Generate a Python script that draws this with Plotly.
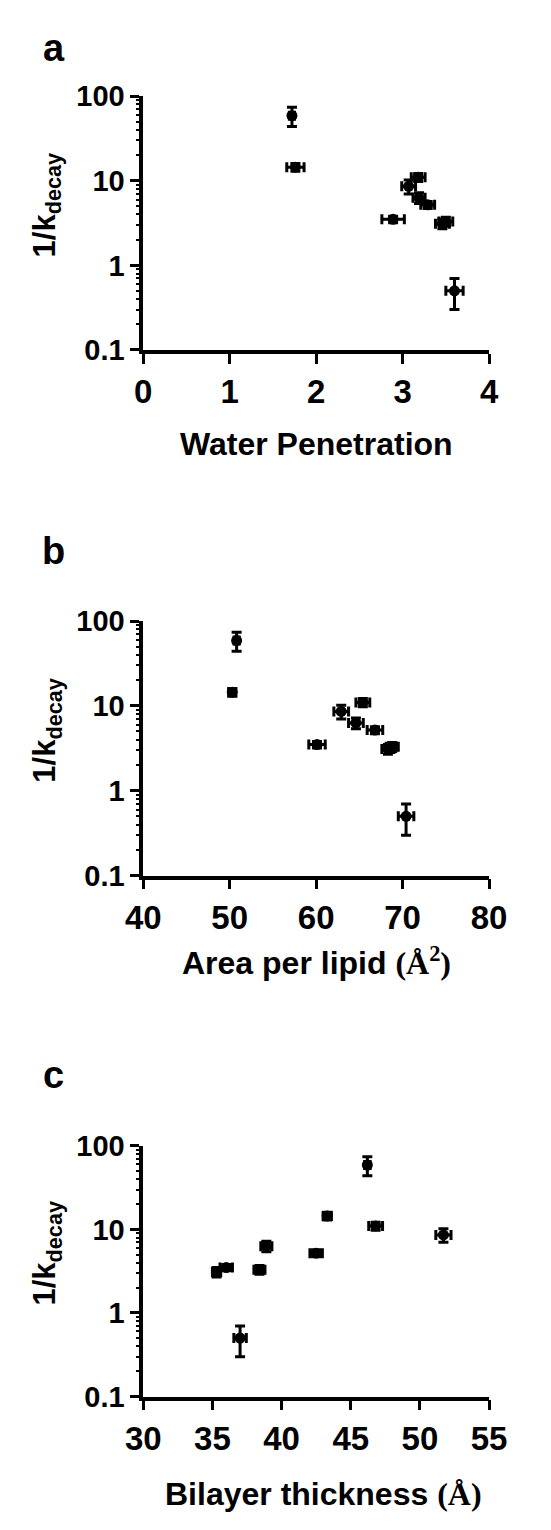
import plotly.graph_objects as go

# Shared y values (1/k_decay) and their errors for the 10 samples
k_inv = [59, 14.5, 11, 8.6, 6.3, 5.2, 3.5, 3.1, 3.3, 0.5]
k_inv_err = [15, 1.5, 1.2, 1.6, 0.9, 0.5, 0.3, 0.4, 0.4, 0.2]

# Panel a: water penetration
water_pen = [1.72, 1.76, 3.18, 3.07, 3.19, 3.29, 2.89, 3.46, 3.50, 3.60]
water_pen_err = [0.03, 0.10, 0.08, 0.08, 0.07, 0.08, 0.13, 0.08, 0.08, 0.10]

# Panel b: area per lipid (Å^2)
area_lipid = [50.8, 50.3, 65.4, 62.9, 64.6, 66.8, 60.1, 68.3, 68.8, 70.4]
area_lipid_err = [0.3, 0.4, 0.8, 0.85, 0.85, 0.9, 0.95, 0.7, 0.7, 0.9]

# Panel c: bilayer thickness (Å)
thickness = [46.2, 43.3, 46.8, 51.7, 38.9, 42.5, 36.0, 35.3, 38.4, 37.0]
thickness_err = [0.2, 0.3, 0.5, 0.55, 0.4, 0.45, 0.45, 0.3, 0.4, 0.45]

x_ranges = [[0, 4], [40, 80], [30, 55]]
x_dticks = [1, 10, 5]
panel_letters = ["a", "b", "c"]
x_titles = [
    "Water Penetration",
    "Area per lipid <span style=\"font-family:'Liberation Serif'\">(Å<sup>2</sup>)</span>",
    "Bilayer thickness <span style=\"font-family:'Liberation Serif'\">(Å)</span>",
]
y_major = [0.1, 1, 10, 100]
y_major_text = ["0.1", "1", "10", "100"]
y_minor = [m * d for d in (0.1, 1, 10) for m in range(2, 10)]

W, H = 551, 1530
x_dom = [134 / W, 504 / W]
y_doms_px = [(82, 341), (618, 878), (1154, 1410)]
y_doms = [[1 - b / H, 1 - t / H] for (t, b) in y_doms_px]

FONT = "Liberation Sans, Arial, sans-serif"

fig = go.Figure()
xs = [water_pen, area_lipid, thickness]
xerrs = [water_pen_err, area_lipid_err, thickness_err]
for i in range(3):
    sfx = "" if i == 0 else str(i + 1)
    fig.add_trace(go.Scatter(
        x=xs[i], y=k_inv, mode="markers",
        xaxis="x" + sfx, yaxis="y" + sfx,
        marker=dict(color="black", size=11, symbol="circle"),
        error_x=dict(type="data", array=xerrs[i], color="black", thickness=3, width=5),
        error_y=dict(type="data", array=k_inv_err, color="black", thickness=3, width=5),
        showlegend=False, cliponaxis=False,
    ))
    # empty trace to hold the minor-tick overlay axis
    fig.add_trace(go.Scatter(
        x=[], y=[], mode="markers", xaxis="x" + sfx, yaxis="y%d" % (i + 4),
        showlegend=False, hoverinfo="skip",
    ))

layout = dict(
    width=W, height=H, autosize=False, margin=dict(l=0, r=0, t=0, b=0),
    paper_bgcolor="white", plot_bgcolor="white", showlegend=False,
    font=dict(family=FONT, color="black"),
)
annotations = []
for i in range(3):
    sfx = "" if i == 0 else str(i + 1)
    layout["xaxis" + sfx] = dict(
        domain=x_dom, anchor="y" + sfx, range=x_ranges[i], dtick=x_dticks[i], tick0=0,
        showline=True, linecolor="black", linewidth=3.5, showgrid=False, zeroline=False,
        ticks="outside", ticklen=10, tickwidth=3, tickcolor="black",
        tickfont=dict(family=FONT, size=33, color="black", weight="bold"),
    )
    layout["yaxis" + sfx] = dict(
        domain=y_doms[i], anchor="x" + sfx, type="log", range=[-1, 2],
        tickmode="array", tickvals=y_major, ticktext=y_major_text,
        showline=True, linecolor="black", linewidth=3.5, showgrid=False, zeroline=False,
        ticks="outside", ticklen=9, tickwidth=3, tickcolor="black",
        tickfont=dict(family=FONT, size=29, color="black", weight="bold"),
    )
    # overlay axis that only draws the minor ticks
    layout["yaxis%d" % (i + 4)] = dict(
        domain=y_doms[i], anchor="x" + sfx, overlaying="y" + sfx, side="left",
        type="log", range=[-1, 2], tickmode="array", tickvals=y_minor,
        showticklabels=False, showline=False, showgrid=False, zeroline=False,
        ticks="outside", ticklen=6, tickwidth=2, tickcolor="black",
    )
    top_px, bot_px = y_doms_px[i]
    letter_y = [33, 546, 1082][i]
    annotations.append(dict(
        text="<b>%s</b>" % panel_letters[i], x=38 / W, y=1 - letter_y / H, xref="paper", yref="paper",
        showarrow=False, xanchor="center", yanchor="middle", font=dict(family=FONT, size=38, color="black"),
    ))
    title_y = [437, 965, 1510][i]
    annotations.append(dict(
        text="<b>%s</b>" % x_titles[i], x=(x_dom[0] + x_dom[1]) / 2 + (8 / W if i == 2 else 0),
        y=1 - title_y / H, xref="paper", yref="paper",
        showarrow=False, xanchor="center", yanchor="middle", font=dict(family=FONT, size=32, color="black"),
    ))
    annotations.append(dict(
        text="<b>1/k<sub>decay</sub></b>", x=31 / W, y=1 - ((top_px + bot_px) / 2 - 19) / H,
        xref="paper", yref="paper", textangle=-90,
        showarrow=False, xanchor="center", yanchor="middle", font=dict(family=FONT, size=31, color="black"),
    ))
layout["annotations"] = annotations
fig.update_layout(**layout)
fig.write_html(
    "out.html",
    config={"responsive": False, "displayModeBar": False},
    post_script="document.body.style.margin='0';document.body.style.padding='0';",
)
